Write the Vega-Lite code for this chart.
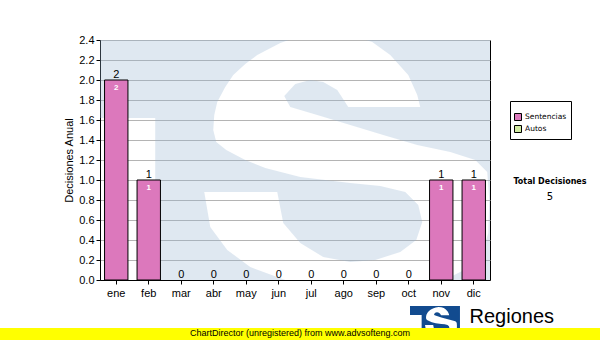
{
  "$schema": "https://vega.github.io/schema/vega-lite/v6.json",
  "width": 390,
  "height": 240,
  "autosize": {"type": "none"},
  "padding": {"left": 100, "top": 40, "right": 110, "bottom": 60},
  "background": "white",
  "title": {
    "text": "Total Decisiones",
    "subtitle": "5",
    "anchor": "end",
    "align": "center",
    "frame": "group",
    "dx": 60,
    "dy": 168,
    "offset": 0,
    "font": "DejaVu Sans",
    "fontSize": 8,
    "fontWeight": "bold",
    "color": "black",
    "subtitleFont": "DejaVu Sans",
    "subtitleFontSize": 10,
    "subtitleColor": "black",
    "subtitlePadding": 6
  },
  "config": {
    "view": {"fill": "white", "stroke": "black", "strokeWidth": 1},
    "font": "Liberation Sans"
  },
  "data": {
    "values": [
      {"month": "ene", "tipo": "Sentencias", "value": 2},
      {"month": "feb", "tipo": "Sentencias", "value": 1},
      {"month": "mar", "tipo": "Sentencias", "value": 0},
      {"month": "abr", "tipo": "Sentencias", "value": 0},
      {"month": "may", "tipo": "Sentencias", "value": 0},
      {"month": "jun", "tipo": "Sentencias", "value": 0},
      {"month": "jul", "tipo": "Sentencias", "value": 0},
      {"month": "ago", "tipo": "Sentencias", "value": 0},
      {"month": "sep", "tipo": "Sentencias", "value": 0},
      {"month": "oct", "tipo": "Sentencias", "value": 0},
      {"month": "nov", "tipo": "Sentencias", "value": 1},
      {"month": "dic", "tipo": "Sentencias", "value": 1}
    ]
  },
  "encoding": {
    "x": {
      "field": "month",
      "type": "nominal",
      "sort": ["ene", "feb", "mar", "abr", "may", "jun", "jul", "ago", "sep", "oct", "nov", "dic"],
      "scale": {"paddingInner": 0.28, "paddingOuter": 0.14},
      "axis": {
        "title": "Regiones",
        "titleFont": "Liberation Sans",
        "titleFontSize": 20,
        "titleFontWeight": "normal",
        "titleColor": "black",
        "titleX": 369,
        "titleY": 42,
        "titleAlign": "left",
        "titleBaseline": "alphabetic",
        "labelAngle": 0,
        "labelFontSize": 11,
        "labelColor": "black",
        "labelPadding": 3,
        "tickSize": 4,
        "tickColor": "black",
        "domainColor": "black",
        "grid": false,
        "zindex": 0
      }
    },
    "y": {
      "field": "value",
      "type": "quantitative",
      "scale": {"domain": [0, 2.4], "nice": false},
      "axis": {
        "title": "Decisiones Anual",
        "titleFontSize": 11,
        "titleFontWeight": "normal",
        "titleColor": "black",
        "titlePadding": 4,
        "values": [0, 0.2, 0.4, 0.6, 0.8, 1.0, 1.2, 1.4, 1.6, 1.8, 2.0, 2.2, 2.4],
        "format": ".1f",
        "labelFontSize": 11,
        "labelColor": "black",
        "labelPadding": 2,
        "tickSize": 4,
        "tickColor": "black",
        "domainColor": "black",
        "gridColor": "#b4b4b4",
        "gridWidth": 1,
        "zindex": 0
      }
    }
  },
  "layer": [
    {
      "transform": [{"filter": "datum.month == 'jul'"}],
      "mark": {
        "type": "point",
        "shape": "M-2.15,-1.35 L-2.15,1.35 L1.85,1.35 L1.85,-1.35 Z M-2.15,-0.42 L-1.56,-0.42 L-1.56,1.35 L-2.15,1.35 Z M0.14,-1.28 L0.39,-1.25 L0.61,-1.18 L0.79,-1.05 L0.97,-0.85 L1.06,-0.65 L1.09,-0.53 L0.37,-0.53 L0.26,-0.70 L0.12,-0.78 L-0.01,-0.80 L-0.16,-0.76 L-0.27,-0.64 L-0.21,-0.53 L0.06,-0.45 L0.39,-0.35 L0.72,-0.25 L1.06,-0.15 L1.39,-0.08 L1.64,0 L1.76,0.12 L1.78,0.40 L1.77,0.73 L1.72,0.90 L1.59,1.07 L1.39,1.17 L1.14,1.24 L0.84,1.28 L0.49,1.29 L0.09,1.27 L-0.26,1.20 L-0.61,1.07 L-0.84,0.90 L-1.01,0.67 L-1.07,0.32 L-0.34,0.32 L-0.28,0.63 L-0.11,0.83 L0.12,0.97 L0.39,1.02 L0.64,1.00 L0.89,0.92 L1.05,0.80 L1.11,0.62 L1.07,0.45 L0.94,0.32 L0.69,0.26 L0.39,0.23 L-0.11,0.17 L-0.46,0.08 L-0.66,0 L-0.85,-0.10 L-0.95,-0.18 L-0.98,-0.30 L-0.97,-0.45 L-0.94,-0.58 L-0.86,-0.73 L-0.78,-0.85 L-0.66,-0.96 L-0.54,-1.05 L-0.31,-1.17 L-0.11,-1.24 Z",
        "size": 40000,
        "filled": true,
        "fill": "#94b2d0",
        "fillOpacity": 0.3,
        "opacity": 1,
        "strokeWidth": 0,
        "clip": true
      },
      "encoding": {
        "x": {"datum": "jul"},
        "y": {"datum": 1.2}
      }
    },
    {
      "transform": [{"filter": "datum.value > 0"}],
      "mark": {"type": "bar", "stroke": "black", "strokeWidth": 1, "opacity": 1},
      "encoding": {
        "fill": {
          "field": "tipo",
          "type": "nominal",
          "scale": {"domain": ["Sentencias", "Autos"], "range": ["#dc78bc", "#d2eca2"]},
          "legend": {
            "orient": "none",
            "legendX": 410,
            "legendY": 61,
            "title": "\u00a0\u00a0\u00a0\u00a0\u00a0\u00a0\u00a0\u00a0\u00a0\u00a0\u00a0\u00a0\u00a0\u00a0\u00a0\u00a0\u00a0\u00a0\u00a0\u00a0\u00a0\u00a0\u00a0\u00a0\u00a0\u00a0\u00a0\u00a0\u00a0\u00a0\u00a0\u00a0",
            "titleFontSize": 8,
            "titlePadding": 0,
            "padding": 4,
            "strokeColor": "black",
            "fillColor": "white",
            "symbolType": "square",
            "symbolSize": 49,
            "symbolStrokeColor": "black",
            "symbolStrokeWidth": 1,
            "symbolOpacity": 1,
            "labelFont": "DejaVu Sans",
            "labelFontSize": 7.5,
            "labelColor": "black",
            "labelOffset": 3,
            "rowPadding": 0
          }
        }
      }
    },
    {
      "mark": {"type": "text", "baseline": "alphabetic", "dy": -2.5, "fontSize": 11, "fill": "black", "strokeWidth": 0, "strokeOpacity": 0},
      "encoding": {
        "text": {"field": "value", "type": "quantitative"},
        "stroke": {
          "field": "value",
          "type": "quantitative",
          "scale": {"domain": [0, 2], "range": ["#ffff00", "#ffff00"]},
          "legend": {
            "orient": "none",
            "legendX": -100,
            "legendY": 288,
            "direction": "horizontal",
            "type": "gradient",
            "gradientLength": 600,
            "gradientThickness": 12,
            "gradientStrokeWidth": 0,
            "title": null,
            "padding": 0,
            "values": [0, 1, 2],
            "labelExpr": "datum.value == 1 ? 'ChartDirector (unregistered) from www.advsofteng.com' : ''",
            "labelOffset": -11,
            "labelFont": "Liberation Sans",
            "labelFontSize": 9,
            "labelColor": "black",
            "labelOverlap": false,
            "labelLimit": 600
          }
        }
      }
    },
    {
      "transform": [{"filter": "datum.value > 0"}],
      "mark": {"type": "text", "baseline": "alphabetic", "dy": 10, "fontSize": 8, "fontWeight": "bold", "fill": "white"},
      "encoding": {
        "text": {"field": "value", "type": "quantitative"}
      }
    },
    {
      "transform": [{"filter": "datum.month == 'nov'"}],
      "mark": {
        "type": "point",
        "shape": "M-2.41,-1.37 L-2.41,1.67 L2.05,1.67 L2.05,-1.37 Z M-2.41,-0.56 L-1.37,-0.56 L-1.37,1.67 L-2.41,1.67 Z M0.14,-1.28 L0.39,-1.25 L0.61,-1.18 L0.79,-1.05 L0.97,-0.85 L1.06,-0.65 L1.09,-0.53 L0.37,-0.53 L0.26,-0.70 L0.12,-0.78 L-0.01,-0.80 L-0.16,-0.76 L-0.27,-0.64 L-0.21,-0.53 L0.06,-0.45 L0.39,-0.35 L0.72,-0.25 L1.06,-0.15 L1.39,-0.08 L1.64,0 L1.76,0.12 L1.78,0.40 L1.77,0.73 L1.72,0.90 L1.59,1.07 L1.39,1.17 L1.14,1.24 L0.84,1.28 L0.49,1.29 L0.09,1.27 L-0.26,1.20 L-0.61,1.07 L-0.84,0.90 L-1.01,0.67 L-1.07,0.32 L-0.34,0.32 L-0.28,0.63 L-0.11,0.83 L0.12,0.97 L0.39,1.02 L0.64,1.00 L0.89,0.92 L1.05,0.80 L1.11,0.62 L1.07,0.45 L0.94,0.32 L0.69,0.26 L0.39,0.23 L-0.11,0.17 L-0.46,0.08 L-0.66,0 L-0.85,-0.10 L-0.95,-0.18 L-0.98,-0.30 L-0.97,-0.45 L-0.94,-0.58 L-0.86,-0.73 L-0.78,-0.85 L-0.66,-0.96 L-0.54,-1.05 L-0.31,-1.17 L-0.11,-1.24 Z",
        "size": 502,
        "filled": true,
        "fill": "#124b8f",
        "opacity": 1,
        "strokeWidth": 0,
        "clip": false
      },
      "encoding": {
        "x": {"datum": "nov", "bandPosition": 0.318},
        "y": {"datum": -0.413}
      }
    }
  ]
}
